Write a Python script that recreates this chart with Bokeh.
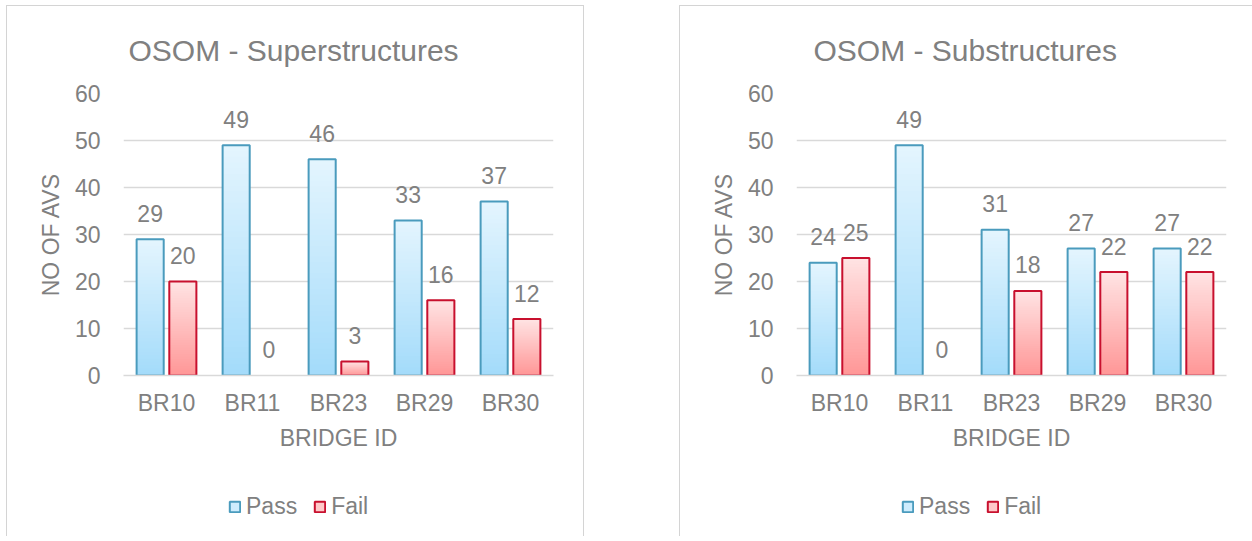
from bokeh.plotting import figure
from bokeh.layouts import row, column, Spacer
from bokeh.models import Range1d, FactorRange, ColumnDataSource, Legend, LegendItem
from bokeh.transform import dodge
from bokeh.core.properties import value
from bokeh.embed import file_html
from bokeh.resources import INLINE

categories = ["BR10", "BR11", "BR23", "BR29", "BR30"]
super_pass = [29, 49, 46, 33, 37]
super_fail = [20, 0, 3, 16, 12]
sub_pass = [24, 49, 31, 27, 27]
sub_fail = [25, 0, 18, 22, 22]
titles = ["OSOM - Superstructures", "OSOM - Substructures"]
series_names = ["Pass", "Fail"]

FONT = "Liberation Sans"
TXT = "#808080"
GRID = "#d9d9d9"
PASS_TOP, PASS_BOT, PASS_LINE = (228, 245, 254), (163, 219, 250), "#4a9bbd"
FAIL_TOP, FAIL_BOT, FAIL_LINE = (255, 228, 228), (255, 150, 150), "#c8102e"
BAR_W = 0.315
OFF = 0.19
NSEG = 40
CHART_H = 470
LEG_H = 60


def mix(c1, c2, t):
    return "#%02x%02x%02x" % tuple(int(round(a + (b - a) * t)) for a, b in zip(c1, c2))


def gradient_bars(p, vals, off, ctop, cbot, cline):
    xs, bots, tops, cols = [], [], [], []
    for c, v in zip(categories, vals):
        for k in range(NSEG):
            xs.append(c)
            bots.append(v * k / NSEG)
            tops.append(v)
            cols.append(mix(cbot, ctop, (k + 0.5) / NSEG))
    src = ColumnDataSource(dict(x=xs, b=bots, t=tops, c=cols))
    p.vbar(x=dodge("x", off, range=p.x_range), bottom="b", top="t", width=BAR_W,
           fill_color="c", line_color=None, source=src)
    nz = [(c, v) for c, v in zip(categories, vals) if v > 0]
    osrc = ColumnDataSource(dict(x=[c for c, _ in nz], t=[v for _, v in nz]))
    p.vbar(x=dodge("x", off, range=p.x_range), bottom=0, top="t", width=BAR_W,
           fill_color=None, line_color=cline, line_width=2, source=osrc)
    lsrc = ColumnDataSource(dict(x=categories, y=vals, s=[str(v) for v in vals]))
    p.text(x=dodge("x", off, range=p.x_range), y="y", text="s", source=lsrc,
           text_font=value(FONT), text_font_size="23px", text_color=TXT,
           text_align="center", text_baseline="alphabetic", y_offset=-26)


def make_chart(title, pv, fv, width, mbl, mbr, title_off):
    p = figure(x_range=FactorRange(*categories, range_padding=0), y_range=Range1d(0, 60),
               width=width, height=CHART_H, output_backend="svg", toolbar_location=None,
               min_border_left=mbl, min_border_right=mbr, min_border_top=87,
               min_border_bottom=CHART_H + 6 - 375)
    p.outline_line_color = None
    p.background_fill_color = "white"
    p.border_fill_color = "white"

    p.title.text = title
    p.title.text_font = FONT
    p.title.text_font_size = "30px"
    p.title.text_font_style = "normal"
    p.title.text_color = TXT
    p.title.align = "left"
    p.title.offset = title_off
    p.title.vertical_align = "top"
    p.title.standoff = 50

    p.xgrid.grid_line_color = None
    p.ygrid.grid_line_color = GRID
    p.ygrid.grid_line_width = 1.3

    p.yaxis.ticker = [0, 10, 20, 30, 40, 50, 60]
    p.yaxis.axis_line_color = None
    p.yaxis.major_tick_line_color = None
    p.yaxis.minor_tick_line_color = None
    p.yaxis.major_label_standoff = 17
    p.yaxis.axis_label = "NO OF AVS"
    p.yaxis.axis_label_standoff = 8

    p.xaxis.axis_line_color = GRID
    p.xaxis.axis_line_width = 1.3
    p.xaxis.major_tick_line_color = None
    p.xaxis.minor_tick_line_color = None
    p.xaxis.major_label_standoff = 8
    p.xaxis.axis_label = "BRIDGE ID"
    p.xaxis.axis_label_standoff = 6

    for ax in (p.xaxis, p.yaxis):
        ax.major_label_text_font = FONT
        ax.major_label_text_font_size = "23px"
        ax.major_label_text_color = TXT
        ax.axis_label_text_font = FONT
        ax.axis_label_text_font_size = "23px"
        ax.axis_label_text_font_style = "normal"
        ax.axis_label_text_color = TXT

    gradient_bars(p, pv, -OFF, PASS_TOP, PASS_BOT, PASS_LINE)
    gradient_bars(p, fv, OFF, FAIL_TOP, FAIL_BOT, FAIL_LINE)

    # legend strip (zero-size proxy glyphs carry the legend styles)
    q = figure(width=width, height=LEG_H, output_backend="svg", toolbar_location=None,
               x_axis_location=None, y_axis_location=None, min_border=0,
               x_range=Range1d(0, 1), y_range=Range1d(0, 1))
    q.outline_line_color = None
    q.grid.grid_line_color = None
    lp = q.vbar(x=[0], bottom=[0], top=[0], width=0, fill_color=mix(PASS_BOT, PASS_TOP, 0.65),
                line_color=PASS_LINE, line_width=2)
    lf = q.vbar(x=[0], bottom=[0], top=[0], width=0, fill_color=mix(FAIL_BOT, FAIL_TOP, 0.65),
                line_color=FAIL_LINE, line_width=2)
    leg = Legend(items=[LegendItem(label=series_names[0], renderers=[lp], index=0),
                        LegendItem(label=series_names[1], renderers=[lf], index=0)],
                 orientation="horizontal", location=(105, 16))
    leg.border_line_color = None
    leg.background_fill_alpha = 0
    leg.padding = 0
    leg.margin = 0
    leg.glyph_width = 13
    leg.glyph_height = 13
    leg.label_standoff = 5
    leg.spacing = 16
    leg.label_text_font = FONT
    leg.label_text_font_size = "23px"
    leg.label_text_color = TXT
    q.add_layout(leg, "center")
    return p, q


b = "1px solid #d4d4d4"
p1, q1 = make_chart(titles[0], super_pass, super_fail, 576, 116, 30, 5)
p2, q2 = make_chart(titles[1], sub_pass, sub_fail, 572, 116, 26, 17)
c1 = column(p1, q1, styles={"border-top": b, "border-left": b, "border-right": b})
c2 = column(p2, q2, styles={"border-top": b, "border-left": b})
layout = column(Spacer(height=5), row(Spacer(width=6), c1, Spacer(width=95), c2))

open("out.html", "w").write(file_html(layout, INLINE))
